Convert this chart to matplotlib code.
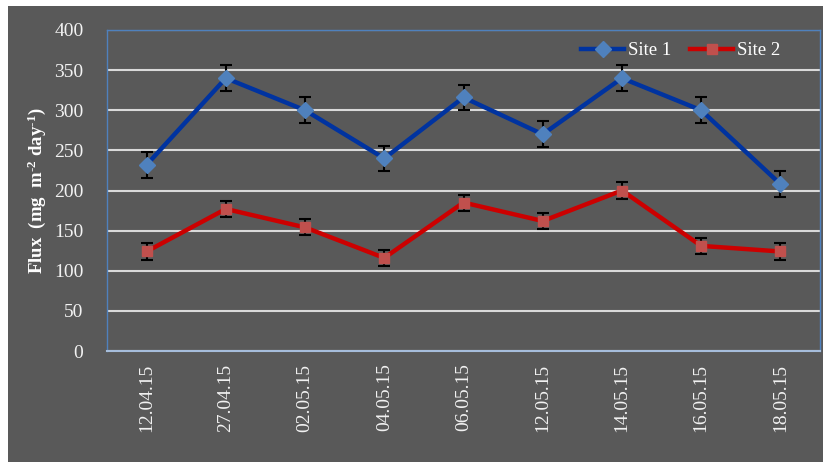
import matplotlib
matplotlib.use("Agg")
import matplotlib.pyplot as plt
from matplotlib.patches import Rectangle

dates = ["12.04.15", "27.04.15", "02.05.15", "04.05.15", "06.05.15",
         "12.05.15", "14.05.15", "16.05.15", "18.05.15"]
site1 = [232, 340, 300, 240, 316, 270, 340, 300, 208]
site1_err = [16, 16, 16, 16, 16, 16, 16, 16, 16]
site2 = [124, 177, 154, 116, 185, 162, 200, 131, 124]
site2_err = [10, 10, 10, 10, 10, 10, 10, 10, 10]
yticks = [0, 50, 100, 150, 200, 250, 300, 350, 400]

plt.rcParams['font.family'] = ['Liberation Serif', 'DejaVu Serif']
plt.rcParams['mathtext.fontset'] = 'custom'
plt.rcParams['mathtext.rm'] = 'Liberation Serif'
plt.rcParams['mathtext.bf'] = 'Liberation Serif:bold'
plt.rcParams['mathtext.it'] = 'Liberation Serif:italic'

fig = plt.figure(figsize=(8.34, 4.63), dpi=100, facecolor='white')
bg = Rectangle((8/834, 1 - 462/463), 815/834, 456/463,
               transform=fig.transFigure, facecolor='#595959',
               edgecolor='none', zorder=-10)
fig.add_artist(bg)
ax = fig.add_axes([107/834, 1 - 351/463, 713/834, 321/463])
ax.set_zorder(5)
ax.set_facecolor('#595959')

x = list(range(len(dates)))
ax.errorbar(x, site1, yerr=site1_err, fmt='none', ecolor='black',
            elinewidth=1.5, capsize=4, capthick=1.5, zorder=4)
ax.errorbar(x, site2, yerr=site2_err, fmt='none', ecolor='black',
            elinewidth=1.5, capsize=4, capthick=1.5, zorder=4)
ax.plot(x, site1, color='#0033a0', lw=3.2, marker='D', markersize=8,
        markerfacecolor='#4f81bd', markeredgecolor='#4f81bd', label='Site 1', zorder=5)
ax.plot(x, site2, color='#cc0000', lw=3.2, marker='s', markersize=7.5,
        markerfacecolor='#c0504d', markeredgecolor='#c0504d', label='Site 2', zorder=5)

ax.set_xlim(-0.5, len(dates) - 0.5)
ax.set_ylim(0, 400)
ax.set_yticks(yticks)
ax.set_yticklabels([str(v) for v in yticks])
ax.set_xticks(x)
ax.set_xticklabels(dates, rotation=90)
ax.tick_params(axis='both', length=0, colors='#f2f2f2', labelsize=14)
ax.tick_params(axis='y', pad=17)
ax.tick_params(axis='x', pad=9)
ax.grid(axis='y', color='#d9d9d9', lw=1.5)
ax.set_axisbelow(True)
for s in ['left', 'right', 'top']:
    ax.spines[s].set_color('#4f81bd')
    ax.spines[s].set_linewidth(1)
ax.spines['bottom'].set_color('#a6bddb')
ax.spines['bottom'].set_linewidth(1.5)

ax.set_ylabel('Flux  (mg  m$^{\\mathbf{\u20102}}$ day$^{\\mathbf{\u20101}}$)', color='white',
              fontsize=13.5, fontweight='bold', labelpad=4)

leg = ax.legend(loc='upper right', ncol=2, frameon=False, fontsize=13.5,
                handlelength=2.3, columnspacing=1.0, handletextpad=0.2,
                bbox_to_anchor=(0.968, 1.015))
for t in leg.get_texts():
    t.set_color('white')

fig.savefig('out.png', dpi=100, facecolor='white')
